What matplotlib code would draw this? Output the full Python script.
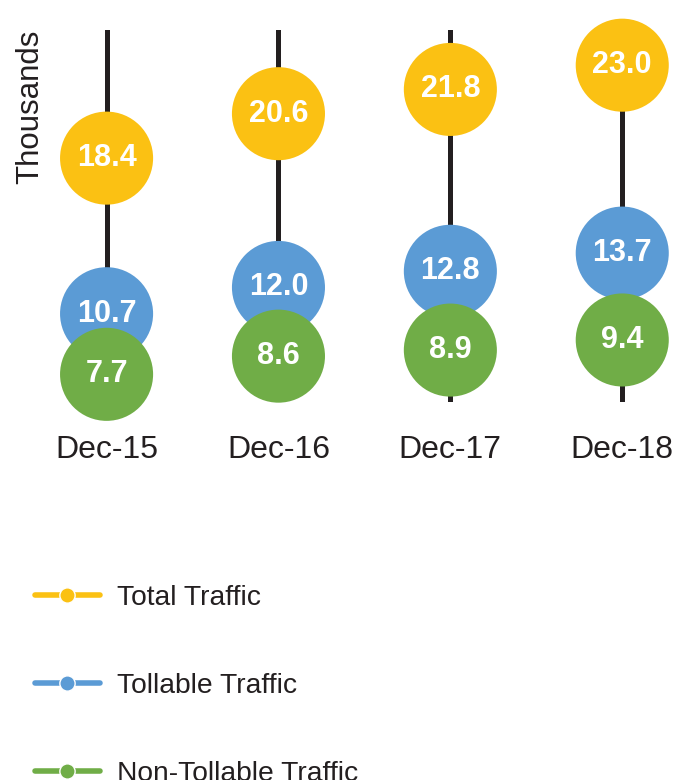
import matplotlib.pyplot as plt
from matplotlib.lines import Line2D

plt.rcParams['font.family'] = ['Liberation Sans', 'DejaVu Sans']

categories = ["Dec-15", "Dec-16", "Dec-17", "Dec-18"]
total = [18.4, 20.6, 21.8, 23.0]
tollable = [10.7, 12.0, 12.8, 13.7]
non_tollable = [7.7, 8.6, 8.9, 9.4]

series = [
    ("Total Traffic", total, "#FBC113"),
    ("Tollable Traffic", tollable, "#5B9BD5"),
    ("Non-Tollable Traffic", non_tollable, "#70AD47"),
]

fig = plt.figure(figsize=(6.91, 7.8), dpi=100)
ax = fig.add_axes([0.0, 0.4846, 1.0, 0.4769])

x = list(range(len(categories)))
for xi in x:
    ax.axvline(xi, color="#231F20", linewidth=3.6, zorder=1)

handles = []
for i, (name, vals, col) in enumerate(series):
    ax.scatter(x, vals, s=67 ** 2, color=col, zorder=2 + i, clip_on=False,
               edgecolors="none")
    for xi, v in zip(x, vals):
        ax.text(xi, v, f"{v:.1f}", color="white", fontsize=22, fontweight="bold",
                ha="center", va="center", zorder=5 + i)
    handles.append(Line2D([], [], color=col, linewidth=4, marker="o",
                          markersize=11, markeredgecolor="white",
                          markeredgewidth=1.0, solid_capstyle="round",
                          label=name))

ax.set_xlim(-0.62, 3.40)
ax.set_ylim(6.33, 24.74)
ax.set_xticks(x)
ax.set_xticklabels(categories, fontsize=23, color="#231F20")
ax.tick_params(axis="x", length=0, pad=24)
ax.set_yticks([])
for s in ax.spines.values():
    s.set_visible(False)

fig.text(30 / 691, 1 - 107 / 780, "Thousands", rotation=90, fontsize=22.5,
         color="#231F20", ha="center", va="center")

fig.legend(handles=handles, loc="upper left",
           bbox_to_anchor=(35 / 691, 1 - 585 / 780), frameon=False,
           fontsize=20.3, handlelength=2.3, handletextpad=0.6,
           labelspacing=2.2, borderpad=0, borderaxespad=0,
           labelcolor="#231F20")

fig.savefig("out.png", dpi=100)
